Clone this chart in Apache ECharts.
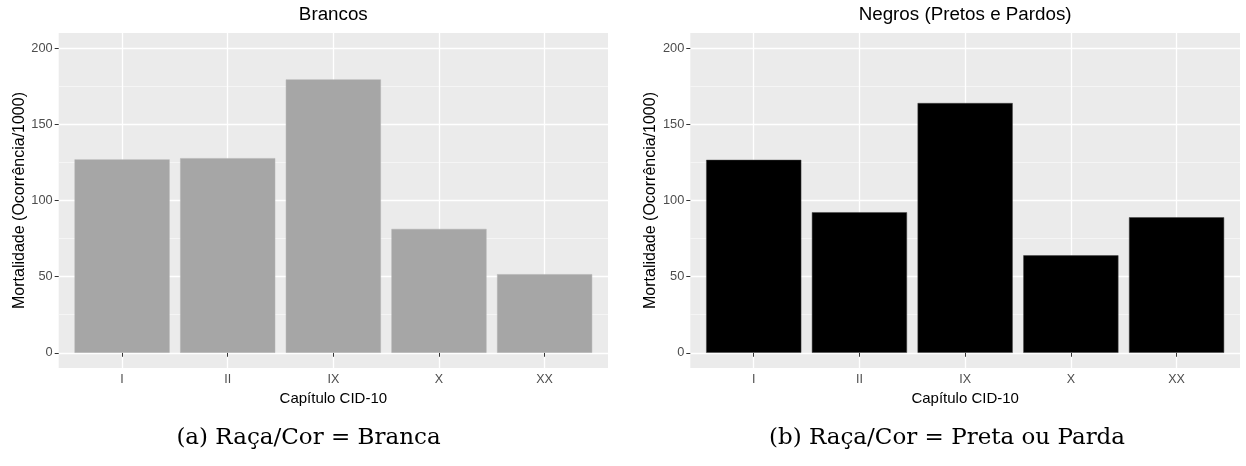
<!DOCTYPE html>
<html>
<head>
<meta charset="utf-8">
<script src="https://cdn.jsdelivr.net/npm/echarts@6/dist/echarts.min.js"></script>
<style>
html,body{margin:0;padding:0;background:#fff;}
#c{width:1246px;height:466px;}
</style>
</head>
<body>
<div id="c"></div>
<script>
// ---- data ----
var categories = ['I', 'II', 'IX', 'X', 'XX'];
var brancosValues = [127.0, 127.8, 179.5, 81.3, 51.6];
var negrosValues = [126.7, 92.3, 164.0, 64.0, 89.0];
var yTickValues = [0, 50, 100, 150, 200];
var yMinorValues = [25, 75, 125, 175];
var panelTitles = ['Brancos', 'Negros (Pretos e Pardos)'];
var captions = ['(a) Raça/Cor = Branca', '(b) Raça/Cor = Preta ou Parda'];
var xAxisTitle = 'Capítulo CID-10';
var yAxisTitle = 'Mortalidade (Ocorrência/1000)';

var chart = echarts.init(document.getElementById('c'), null, {renderer: 'canvas'});

var sans = 'Liberation Sans, Arial, sans-serif';
var catPos = categories.map(function (c, i) { return i + 1; });

var grids = [
  {left: 58.7, top: 33, width: 549.3, height: 335, show: true, backgroundColor: '#EBEBEB', borderWidth: 0},
  {left: 690.3, top: 33, width: 549.7, height: 335, show: true, backgroundColor: '#EBEBEB', borderWidth: 0}
];

var xAxes = [], yAxes = [], series = [];
[brancosValues, negrosValues].forEach(function (vals, g) {
  xAxes.push({
    type: 'value', gridIndex: g, min: 0.4, max: 5.6,
    name: xAxisTitle, nameLocation: 'middle', nameGap: 12,
    nameTextStyle: {fontFamily: sans, fontSize: 15, color: '#000'},
    axisLine: {show: false},
    axisTick: {show: true, length: 4, lineStyle: {color: '#333333', width: 1}, customValues: catPos},
    axisLabel: {show: true, customValues: catPos, margin: 5, color: '#4D4D4D', fontFamily: sans, fontSize: 12.5,
      formatter: function (v) { return categories[Math.round(v) - 1] || ''; }},
    splitLine: {show: true, lineStyle: {color: '#FFFFFF', width: 1.3}}
  });
  yAxes.push({
    type: 'value', gridIndex: g, min: -10, max: 210,
    name: yAxisTitle, nameLocation: 'middle', nameGap: 31,
    nameTextStyle: {fontFamily: sans, fontSize: 16, color: '#000'},
    axisLine: {show: false},
    axisTick: {show: true, length: 4, lineStyle: {color: '#333333', width: 1}, customValues: yTickValues},
    axisLabel: {show: true, customValues: yTickValues, margin: 6, color: '#4D4D4D', fontFamily: sans, fontSize: 12.8},
    splitLine: {show: true, lineStyle: {color: '#FFFFFF', width: 1.3}}
  });
  yAxes.push({
    type: 'value', gridIndex: g, min: -10, max: 210, position: 'left',
    axisLine: {show: false},
    axisTick: {show: false, customValues: yMinorValues},
    axisLabel: {show: false, customValues: yMinorValues},
    splitLine: {show: true, lineStyle: {color: '#F7F7F7', width: 0.8}}
  });
  series.push({
    type: 'bar', xAxisIndex: g, yAxisIndex: g * 2,
    barWidth: '90%',
    itemStyle: {color: g === 0 ? '#A6A6A6' : '#000000', borderColor: g === 0 ? '#B0B0B0' : '#444444', borderWidth: 0.5},
    data: vals.map(function (v, i) { return [catPos[i], v]; }),
    animation: false
  });
});

var option = {
  animation: false,
  title: [
    {text: panelTitles[0], left: 333.3, top: 5, textAlign: 'center', padding: 0,
      textStyle: {fontFamily: sans, fontSize: 18.8, fontWeight: 'normal', color: '#000'}},
    {text: panelTitles[1], left: 965.1, top: 5, textAlign: 'center', padding: 0,
      textStyle: {fontFamily: sans, fontSize: 18.8, fontWeight: 'normal', color: '#000'}}
  ],
  grid: grids,
  xAxis: xAxes,
  yAxis: yAxes,
  series: series,
  graphic: [
    {type: 'text', x: 308.5, y: 438, style: {text: captions[0], fontFamily: 'DejaVu Serif, serif', fontSize: 23, fill: '#000', align: 'center', verticalAlign: 'middle'}},
    {type: 'text', x: 947, y: 438, style: {text: captions[1], fontFamily: 'DejaVu Serif, serif', fontSize: 23, fill: '#000', align: 'center', verticalAlign: 'middle'}}
  ]
};
chart.setOption(option);
</script>
</body>
</html>
